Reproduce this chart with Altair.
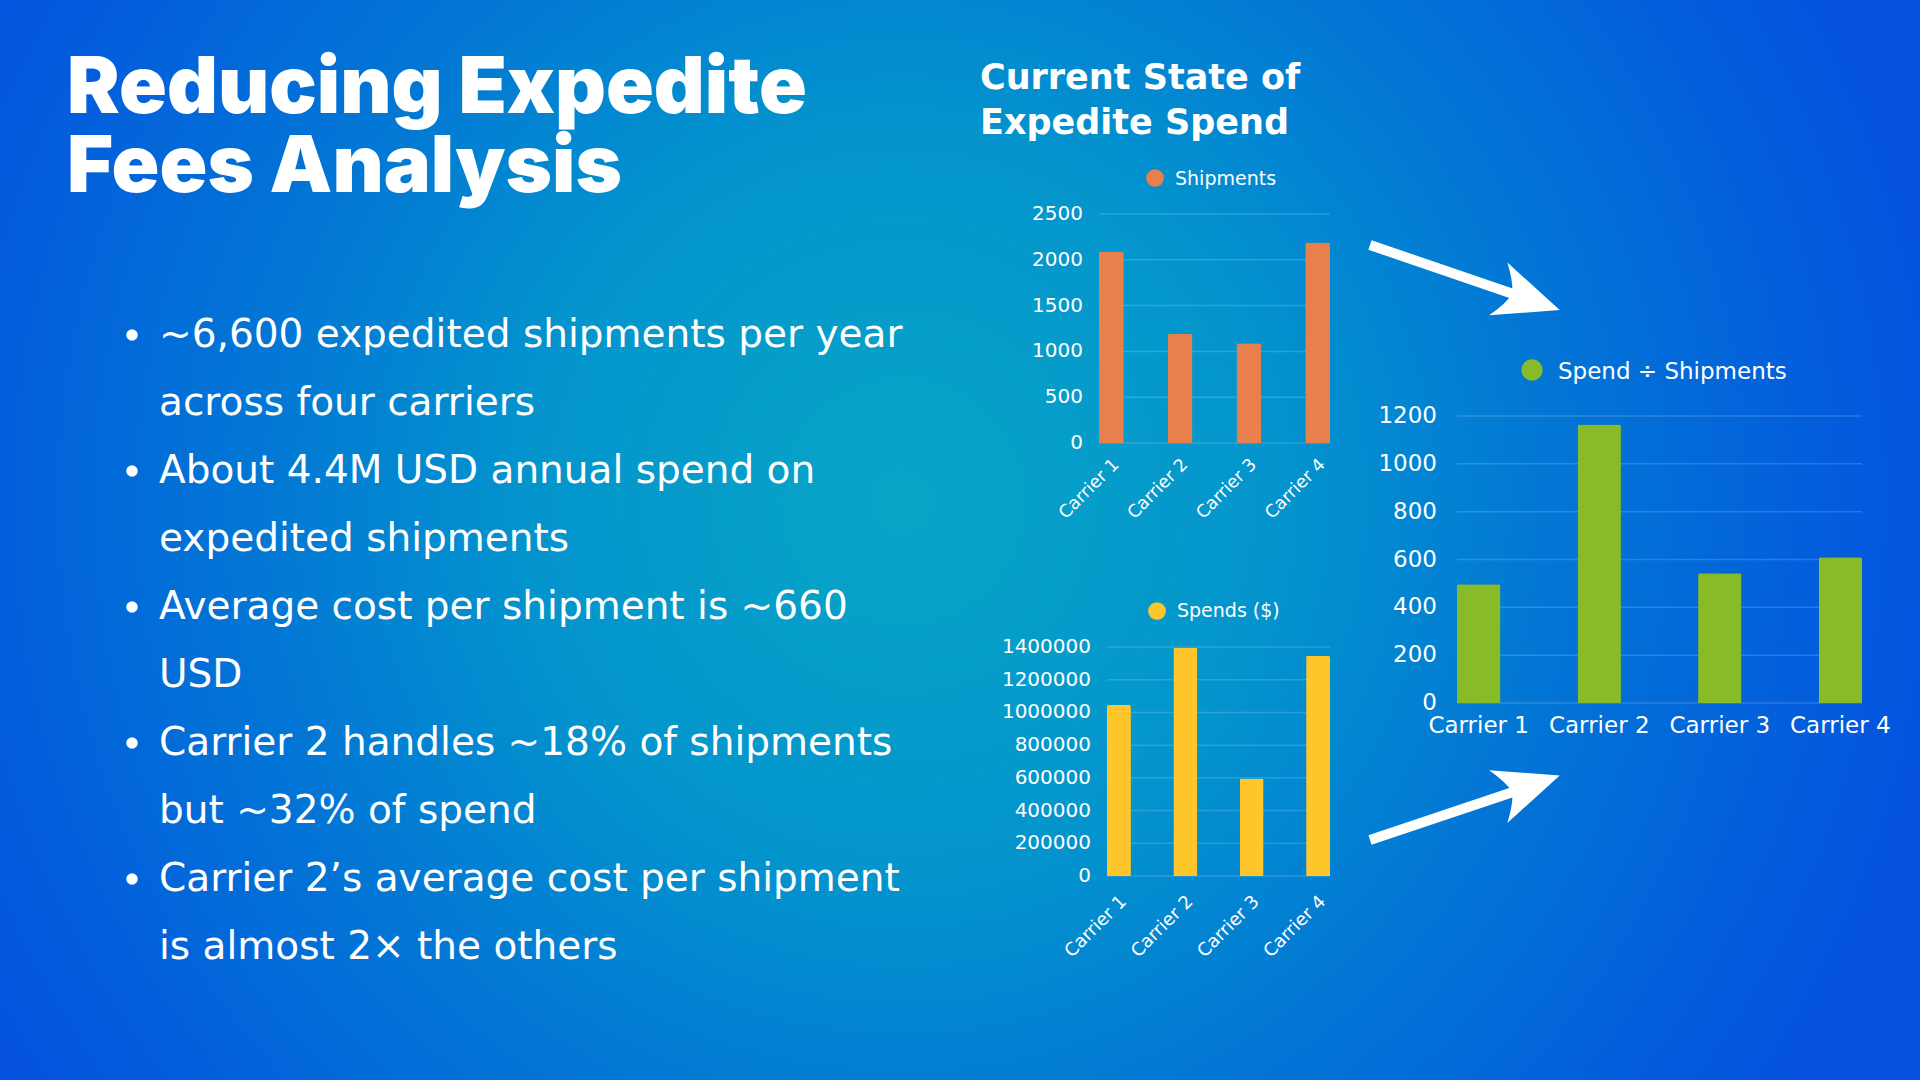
import altair as alt
import pandas as pd

# ---------------- data ----------------
carriers = ["Carrier 1", "Carrier 2", "Carrier 3", "Carrier 4"]
shipments = [2090, 1190, 1090, 2190]
spends = [1046000, 1396000, 596000, 1347000]
cost_per_shipment = [496, 1164, 542, 609]

shipment_ticks = [0, 500, 1000, 1500, 2000, 2500]
spend_ticks = [0, 200000, 400000, 600000, 800000, 1000000, 1200000, 1400000]
cost_ticks = [0, 200, 400, 600, 800, 1000, 1200]

series_names = ["Shipments", "Spends ($)", "Spend ÷ Shipments"]
series_colors = ["#E8804D", "#FEC62A", "#88BB28"]

title_lines = ["Reducing Expedite", "Fees Analysis"]
subtitle_lines = ["Current State of", "Expedite Spend"]
bullets = [
    ["~6,600 expedited shipments per year", "across four carriers"],
    ["About 4.4M USD annual spend on", "expedited shipments"],
    ["Average cost per shipment is ~660", "USD"],
    ["Carrier 2 handles ~18% of shipments", "but ~32% of spend"],
    ["Carrier 2\u2019s average cost per shipment", "is almost 2\u00d7 the others"],
]

HEAD_FONT = "Inter"
SUB_FONT = "DejaVu Sans"
BODY_FONT = "DejaVu Sans"
W, H = 1920, 1080


def text(s, x, y, size, weight=400, font=BODY_FONT, align="left", baseline="alphabetic"):
    return alt.Chart(pd.DataFrame({"t": [s]})).mark_text(
        align=align, baseline=baseline, font=font, fontSize=size,
        fontWeight=weight, color="white"
    ).encode(x=alt.value(x), y=alt.value(y), text="t:N")


def dot(x, y, r, color):
    return alt.Chart(pd.DataFrame({"t": [0]})).mark_point(
        shape="circle", filled=True, opacity=1, color=color,
        size=3.14159 * r * r, strokeWidth=0
    ).encode(x=alt.value(x), y=alt.value(y))


def panel(values, ticks, color, xr, yr, label_x, label_size, rotated, xlab_y, xlab_size):
    df = pd.DataFrame({"carrier": carriers, "value": values})
    tdf = pd.DataFrame({"tick": ticks})
    xs = alt.Scale(domain=carriers, range=xr, paddingInner=0.64, paddingOuter=0)
    ys = alt.Scale(domain=[0, ticks[-1]], range=yr, nice=False, zero=True)
    X = alt.X("carrier:N", scale=xs, axis=None, sort=carriers)
    grid = alt.Chart(tdf).mark_rule(color="white", opacity=0.16, strokeWidth=1.5).encode(
        y=alt.Y("tick:Q", scale=ys, axis=None), x=alt.value(xr[0]), x2=alt.value(xr[1])
    )
    bars = alt.Chart(df).mark_bar(
        color=color, cornerRadiusTopLeft=2, cornerRadiusTopRight=2
    ).encode(x=X, y=alt.Y("value:Q", scale=ys, axis=None))
    ylab = alt.Chart(tdf).mark_text(
        align="right", baseline="middle", color="white", font=BODY_FONT, fontSize=label_size
    ).encode(
        y=alt.Y("tick:Q", scale=ys, axis=None), x=alt.value(label_x),
        text=alt.Text("tick:Q", format="d")
    )
    if rotated:
        xlab = alt.Chart(df).mark_text(
            angle=315, align="right", baseline="middle", dx=3.5, dy=3.5,
            color="white", font=BODY_FONT, fontSize=xlab_size
        ).encode(x=X, y=alt.value(xlab_y), text="carrier:N")
    else:
        xlab = alt.Chart(df).mark_text(
            align="center", baseline="alphabetic",
            color="white", font=BODY_FONT, fontSize=xlab_size
        ).encode(x=X, y=alt.value(xlab_y), text="carrier:N")
    return alt.layer(grid, bars, ylab, xlab)


def arrow(x0, y0, x1, y1, hx, hy, angle):
    shaft = alt.Chart(pd.DataFrame({"t": [0]})).mark_rule(
        color="white", strokeWidth=10, strokeCap="butt"
    ).encode(x=alt.value(x0), y=alt.value(y0), x2=alt.value(x1), y2=alt.value(y1))
    head = alt.Chart(pd.DataFrame({"t": [0]})).mark_point(
        shape="M1,0L-1,-0.86Q-0.6,-0.3,-0.55,0Q-0.6,0.3,-1,0.86Z", filled=True, opacity=1,
        color="white", size=4225, angle=angle, strokeWidth=0
    ).encode(x=alt.value(hx), y=alt.value(hy))
    return [shaft, head]


# ---------------- background ----------------
bg = alt.Chart(pd.DataFrame({"t": [0]})).mark_rect(
    color={
        "gradient": "radial",
        "x1": 0.47, "y1": 0.48, "r1": 0,
        "x2": 0.47, "y2": 0.48, "r2": 0.56,
        "stops": [
            {"offset": 0.0, "color": "#08A5C6"},
            {"offset": 0.35, "color": "#0394CD"},
            {"offset": 0.6, "color": "#0277D5"},
            {"offset": 0.85, "color": "#035EDC"},
            {"offset": 1.0, "color": "#0550DF"},
        ],
    }
).encode(x=alt.value(0), x2=alt.value(W), y=alt.value(0), y2=alt.value(H))

layers = [bg]

# title
layers.append(text(title_lines[0], 67, 113, 79, 900, HEAD_FONT))
layers.append(text(title_lines[1], 67, 192, 79, 900, HEAD_FONT))

# bullets
line_y = 347
for b in bullets:
    layers.append(dot(132, line_y - 12, 6.5, "white"))
    for ln in b:
        layers.append(text(ln, 159, line_y, 39, 400))
        line_y += 68

# subtitle
layers.append(text(subtitle_lines[0], 980, 89, 35, 700, SUB_FONT))
layers.append(text(subtitle_lines[1], 980, 134, 35, 700, SUB_FONT))

# legends
layers.append(dot(1155, 178, 10, series_colors[0]))
layers.append(text(series_names[0], 1175, 184.5, 19))
layers.append(dot(1157, 611, 10, series_colors[1]))
layers.append(text(series_names[1], 1177, 617, 19))
layers.append(dot(1532, 370, 12, series_colors[2]))
layers.append(text(series_names[2], 1558, 378.5, 23))

# panels
layers.append(panel(shipments, shipment_ticks, series_colors[0], [1099, 1330], [443, 214],
                    1083, 20, True, 462, 17.5))
layers.append(panel(spends, spend_ticks, series_colors[1], [1107, 1330], [876, 647],
                    1091, 20, True, 899, 18))
layers.append(panel(cost_per_shipment, cost_ticks, series_colors[2], [1457, 1862], [703, 416],
                    1437, 23, False, 733, 23))

# arrows
layers += arrow(1370, 245, 1522, 297, 1529, 299.5, 19)
layers += arrow(1370, 840, 1522, 789, 1529, 786, 341)

chart = alt.layer(*layers).resolve_scale(
    x="independent", y="independent"
).properties(
    width=W, height=H, padding=0,
    autosize=alt.AutoSizeParams(type="none"),
    background="#0452DF",
).configure_view(stroke=None)

chart.save("out.html", embed_options={"renderer": "svg", "actions": False})
